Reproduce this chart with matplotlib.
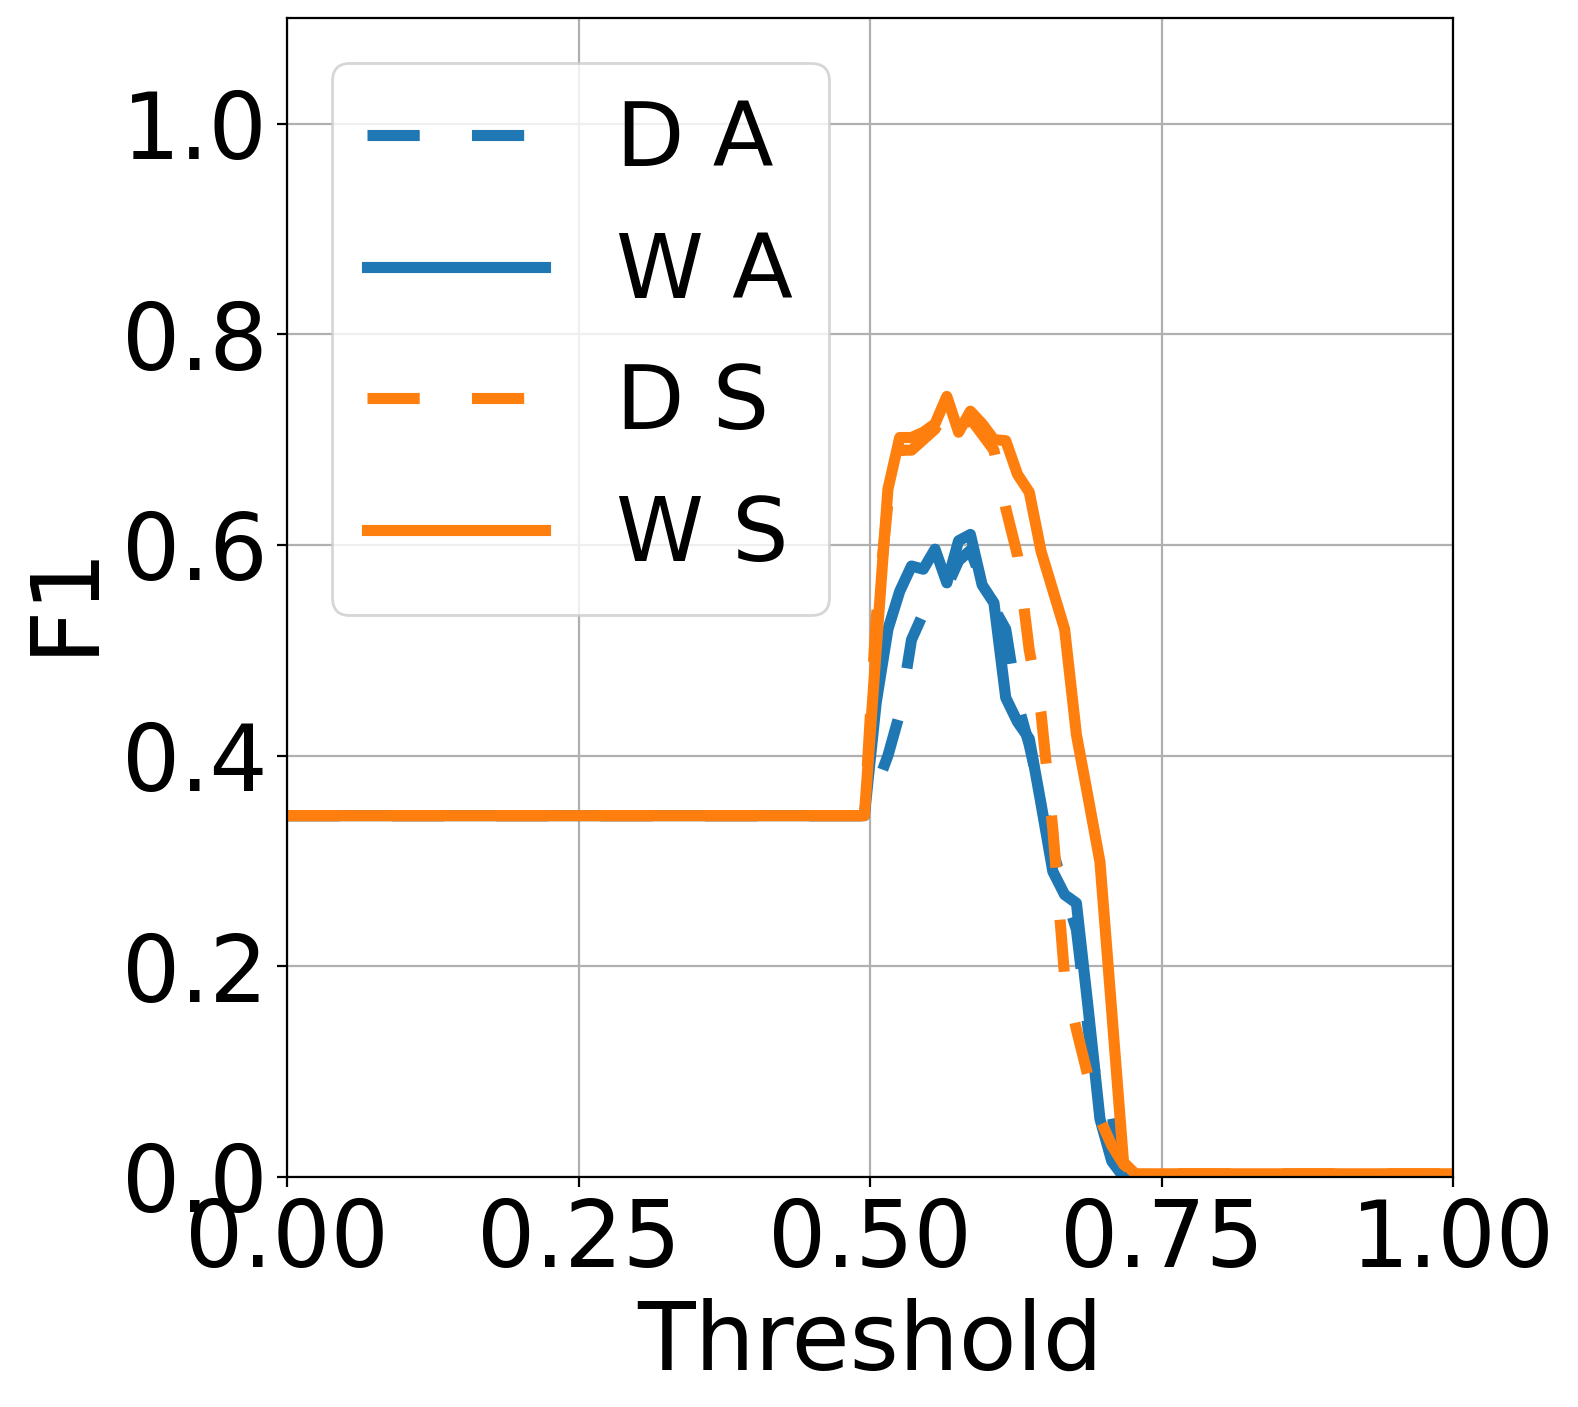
import numpy as np
import matplotlib
matplotlib.use("Agg")
import matplotlib.pyplot as plt

# thresholds sampled on 100 points between 0 and 1
thresholds = np.linspace(0, 1, 100)

base_f1 = 0.343      # F1 below the 0.5 threshold (all series identical)
n_flat = 50          # thresholds 0 .. 0.495

# values from threshold 0.505 onwards
da_peak = [0.37, 0.40, 0.44, 0.51, 0.535, 0.555, 0.56, 0.585, 0.595, 0.565,
           0.54, 0.52, 0.45, 0.41, 0.36, 0.31, 0.27, 0.235, 0.14, 0.07,
           0.06, 0.0]
wa_peak = [0.45, 0.52, 0.556, 0.580, 0.577, 0.596, 0.564, 0.604, 0.610, 0.562,
           0.545, 0.455, 0.432, 0.416, 0.354, 0.29, 0.268, 0.26, 0.16, 0.055,
           0.015, 0.0]
ds_peak = [0.53, 0.64, 0.69, 0.69, 0.70, 0.71, 0.73, 0.71, 0.72, 0.705,
           0.69, 0.635, 0.59, 0.50, 0.44, 0.33, 0.19, 0.14, 0.095, 0.055,
           0.03, 0.012, 0.003]
ws_peak = [0.50, 0.653, 0.702, 0.702, 0.707, 0.715, 0.741, 0.707, 0.727, 0.715,
           0.700, 0.699, 0.667, 0.650, 0.594, 0.557, 0.520, 0.42, 0.36, 0.299,
           0.157, 0.014, 0.003]

tail = {"D A": 0.0, "W A": 0.0, "D S": 0.003, "W S": 0.003}


def build(peak, tail_val):
    vals = [base_f1] * n_flat + list(peak)
    vals += [tail_val] * (len(thresholds) - len(vals))
    return np.array(vals)


series = [
    ("D A", da_peak, "#1f77b4", "dashed"),
    ("W A", wa_peak, "#1f77b4", "solid"),
    ("D S", ds_peak, "#ff7f0e", "dashed"),
    ("W S", ws_peak, "#ff7f0e", "solid"),
]

fig = plt.figure(figsize=(7.89, 7.035), dpi=200)
ax = fig.add_axes([0.182, 0.1635, 0.739, 0.8235])

for label, peak, color, style in series:
    y = build(peak, tail[label])
    line, = ax.plot(thresholds, y, color=color, lw=4, label=label)
    if style == "dashed":
        line.set_dashes((4.7, 4.7))

ax.set_xlim(0, 1)
ax.set_ylim(0, 1.1)
ax.set_xticks([0, 0.25, 0.5, 0.75, 1.0])
ax.set_yticks([0, 0.2, 0.4, 0.6, 0.8, 1.0])
ax.tick_params(labelsize=33)
ax.set_xlabel("Threshold", fontsize=34)
ax.set_ylabel("F1", fontsize=34)
ax.grid(True)
ax.legend(loc="upper left", fontsize=32)

fig.savefig("out.png", dpi=200)
